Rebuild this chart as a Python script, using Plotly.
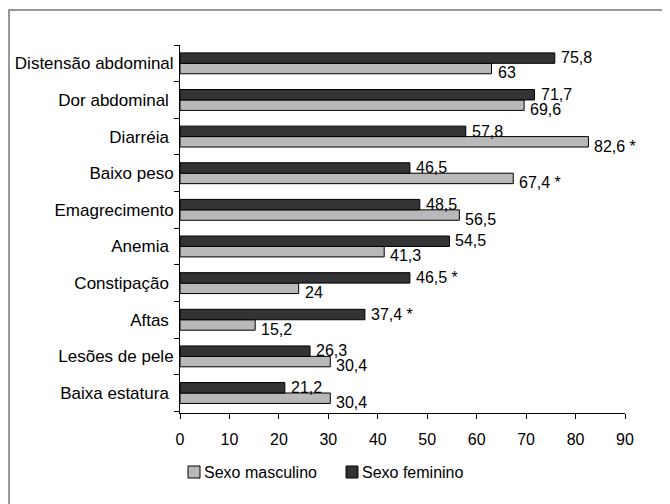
import plotly.graph_objects as go

categories = ["Distensão abdominal", "Dor abdominal ", "Diarréia ", "Baixo peso", "Emagrecimento",
              "Anemia ", "Constipação ", "Aftas ", "Lesões de pele", "Baixa estatura "]
masculino = [63, 69.6, 82.6, 67.4, 56.5, 41.3, 24, 15.2, 30.4, 30.4]
feminino = [75.8, 71.7, 57.8, 46.5, 48.5, 54.5, 46.5, 37.4, 26.3, 21.2]
masc_labels = ["63", "69,6", "82,6 *", "67,4 *", "56,5", "41,3", "24", "15,2", "30,4", "30,4"]
fem_labels = ["75,8", "71,7", "57,8", "46,5", "48,5", "54,5", "46,5 *", "37,4 *", "26,3", "21,2"]
x_ticks = [0, 10, 20, 30, 40, 50, 60, 70, 80, 90]
series_names = ["Sexo masculino", "Sexo feminino"]
series_colors = ["#b9b9bb", "#333335"]

FAM = "Liberation Sans, Arial, sans-serif"
font = dict(family=FAM, size=16, color="black")
cat_font = dict(family=FAM, size=17, color="black")

# page offset of 8px (body margin) is compensated
W, H = 670, 504
L, R, T, B = 172, 53, 37, 99
pw, ph = W - L - R, H - T - B


def px(x):
    return (x - L) / pw


def py(y):
    return (T + ph - y) / ph


fig = go.Figure()
for name, vals, col in zip(series_names, [masculino, feminino], series_colors):
    fig.add_trace(go.Bar(
        y=categories, x=vals, orientation="h", name=name,
        marker=dict(color=col, line=dict(color="black", width=1)),
        showlegend=False,
    ))

for cat, v, lab in zip(categories, feminino, fem_labels):
    fig.add_annotation(x=v, y=cat, text=lab, showarrow=False, xanchor="left",
                       xshift=4, yshift=5.5, font=font)
for cat, v, lab in zip(categories, masculino, masc_labels):
    fig.add_annotation(x=v, y=cat, text=lab, showarrow=False, xanchor="left",
                       xshift=4, yshift=-9.5, font=font)

fig.update_layout(
    width=W, height=H,
    margin=dict(l=L, r=R, t=T, b=B, autoexpand=False),
    barmode="group", bargap=0.43, bargroupgap=0,
    plot_bgcolor="white", paper_bgcolor="white",
    font=font,
    showlegend=False,
)
fig.update_xaxes(
    range=[0, 90], tickvals=x_ticks, ticktext=[str(v) for v in x_ticks],
    showline=True, linecolor="black", linewidth=1,
    ticks="outside", ticklen=5, tickcolor="black",
    showgrid=False, zeroline=False, ticklabelstandoff=7,
    tickfont=font, automargin=False,
)
fig.update_yaxes(
    categoryorder="array", categoryarray=categories[::-1],
    showline=True, linecolor="black", linewidth=1,
    ticks="outside", ticklen=5, tickcolor="black", tickson="boundaries",
    showgrid=False, tickfont=cat_font, ticklabelstandoff=2, automargin=False,
)

# outer frame
fig.add_shape(type="rect", xref="paper", yref="paper",
              x0=px(1), x1=px(W + 20), y0=py(H + 20), y1=py(2),
              line=dict(color="#777777", width=1.5), fillcolor="rgba(0,0,0,0)", layer="below")

# legend
leg_sq_x = [180, 338]
leg_y = 464
for xs, name, col in zip(leg_sq_x, series_names, series_colors):
    fig.add_shape(type="rect", xref="paper", yref="paper",
                  x0=px(xs), x1=px(xs + 12), y0=py(leg_y + 6), y1=py(leg_y - 6),
                  line=dict(color="black", width=1), fillcolor=col)
    fig.add_annotation(xref="paper", yref="paper", x=px(xs + 14), y=py(leg_y),
                       text=name, showarrow=False, xanchor="left", yanchor="middle",
                       font=font)

fig.write_html("out.html")
